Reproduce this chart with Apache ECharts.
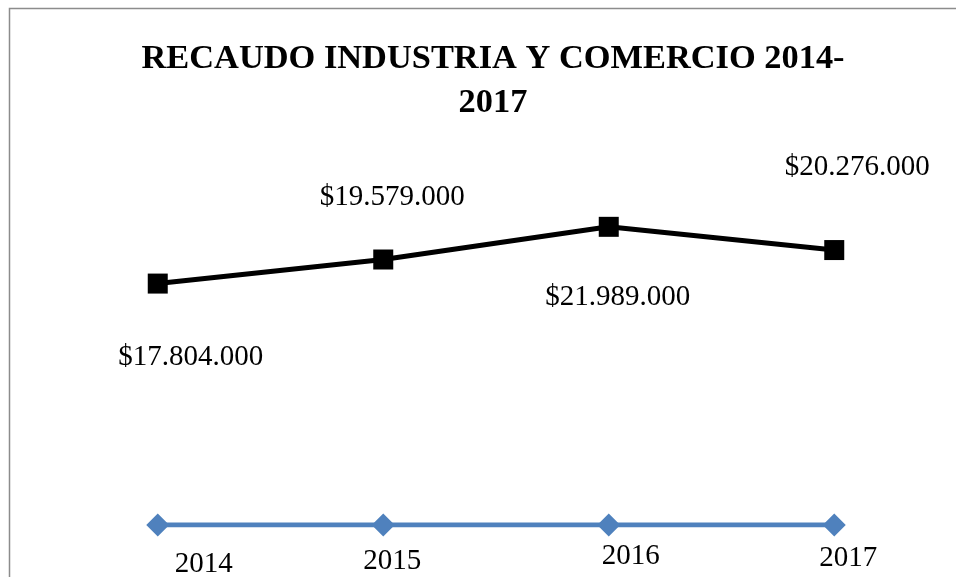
<!DOCTYPE html>
<html>
<head>
<meta charset="utf-8">
<script src="https://cdn.jsdelivr.net/npm/echarts@6/dist/echarts.min.js"></script>
<style>
  html, body { margin: 0; padding: 0; background: #fff; }
  #chart { width: 956px; height: 577px; }
</style>
</head>
<body>
<div id="chart"></div>
<script>
var years = ['2014', '2015', '2016', '2017'];
var recaudo = [17804000, 19579000, 21989000, 20276000];
var yearValues = [2014, 2015, 2016, 2017];

// label nudges (pixels from the marker), as they sit in the original
var valueOffsets = [[33, 74], [9, -62], [9, 71], [23, -83]];
var yearOffsets = [[46, 39], [9, 36], [22, 31], [14, 33]];

var money = (v) => {
    var s = String(Math.round(v));
    return '$' + s.replace(/\B(?=(\d{3})+(?!\d))/g, '.');
};

var chart = echarts.init(document.getElementById('chart'));
chart.setOption({
    animation: false,
    backgroundColor: '#fff',
    title: {
        text: 'RECAUDO INDUSTRIA Y COMERCIO 2014-\n2017',
        left: 488,
        top: 32,
        textAlign: 'center',
        textStyle: {
            fontFamily: 'Liberation Serif',
            fontWeight: 'bold',
            fontSize: 34.4,
            lineHeight: 44,
            color: '#000'
        }
    },
    graphic: [{
        type: 'rect',
        shape: { x: 9.5, y: 8.5, width: 980, height: 600 },
        style: { fill: 'none', stroke: '#8c8c8c', lineWidth: 1.5 },
        silent: true
    }],
    grid: { left: 45, right: 9, top: 186, bottom: 52 },
    xAxis: {
        type: 'category',
        data: years,
        boundaryGap: true,
        axisLine: { show: false },
        axisTick: { show: false },
        axisLabel: { show: false }
    },
    yAxis: {
        type: 'value',
        min: 0,
        max: 25000000,
        show: false,
        splitLine: { show: false }
    },
    series: [{
        name: 'Recaudo',
        type: 'line',
        data: recaudo.map((v, i) => ({
            value: v,
            label: { offset: valueOffsets[i] }
        })),
        symbol: 'rect',
        symbolSize: 20,
        lineStyle: { color: '#000', width: 5 },
        itemStyle: { color: '#000' },
        label: {
            show: true,
            position: 'inside',
            formatter: (p) => money(p.value),
            fontFamily: 'Liberation Serif',
            fontSize: 29,
            color: '#000'
        },
        z: 3
    }, {
        name: 'Año',
        type: 'line',
        data: yearValues.map((v, i) => ({
            value: v,
            label: { offset: yearOffsets[i] }
        })),
        symbol: 'diamond',
        symbolSize: 23,
        lineStyle: { color: '#4f81bd', width: 5 },
        itemStyle: { color: '#4f81bd' },
        label: {
            show: true,
            position: 'inside',
            formatter: (p) => String(p.value),
            fontFamily: 'Liberation Serif',
            fontSize: 29,
            color: '#000'
        },
        z: 2
    }]
});
</script>
</body>
</html>
